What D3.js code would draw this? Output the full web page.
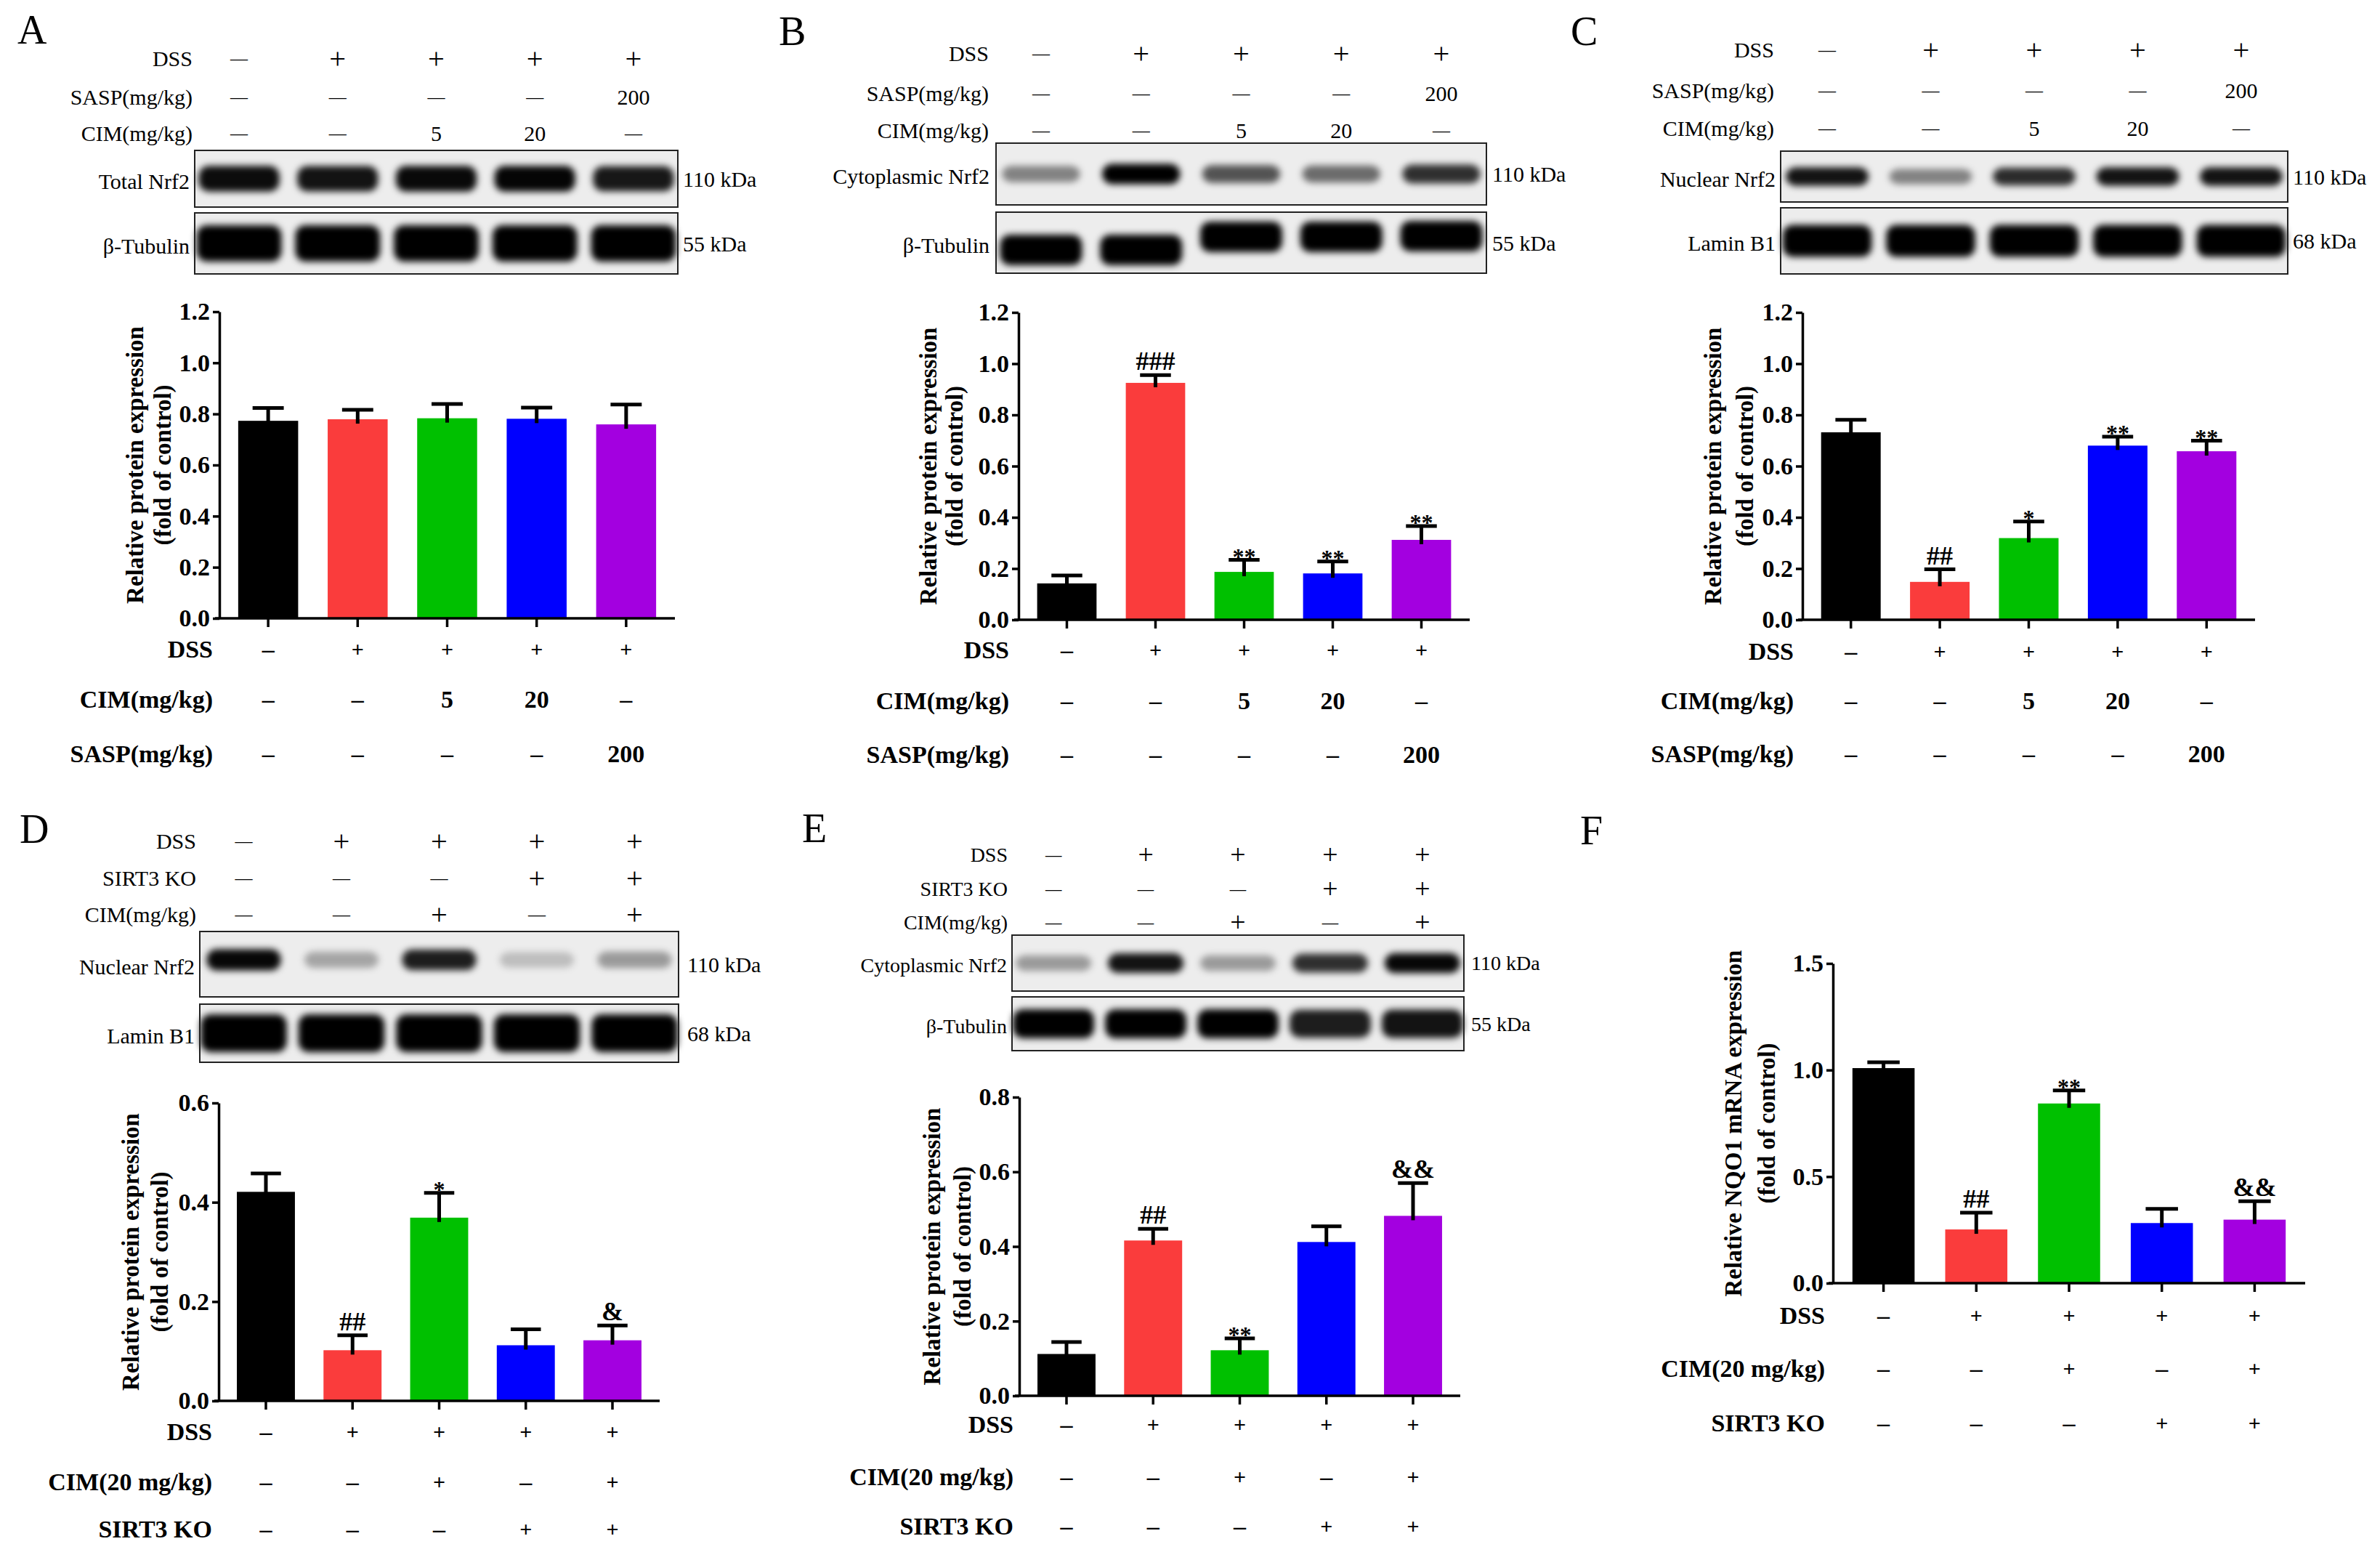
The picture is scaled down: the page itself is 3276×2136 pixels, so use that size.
<!DOCTYPE html>
<html>
<head>
<meta charset="utf-8">
<script src="https://cdn.jsdelivr.net/npm/d3@7"></script>
<style>
  body { margin: 0; background: #fff; }
  text { font-family: "Liberation Serif", "Times New Roman", serif; fill: #000; }
</style>
</head>
<body>
<script>
// ---- data ----
var barColors = ["#000000", "#fa3c3c", "#00c000", "#0000ff", "#a300e0"];

var ticks12 = [0, 0.2, 0.4, 0.6, 0.8, 1.0, 1.2];
var ticks06 = [0, 0.2, 0.4, 0.6];
var ticks08 = [0, 0.2, 0.4, 0.6, 0.8];
var ticks15 = [0, 0.5, 1.0, 1.5];

// treatment tables (A-C)
var hdrLabelsABC = ["DSS", "SASP(mg/kg)", "CIM(mg/kg)"];
var hdrValsABC = [["—", "+", "+", "+", "+"], ["—", "—", "—", "—", "200"], ["—", "—", "5", "20", "—"]];
var rowLabelsABC = ["DSS", "CIM(mg/kg)", "SASP(mg/kg)"];
var rowValsABC = [["–", "+", "+", "+", "+"], ["–", "–", "5", "20", "–"], ["–", "–", "–", "–", "200"]];
// treatment tables (D-F)
var hdrLabelsDE = ["DSS", "SIRT3 KO", "CIM(mg/kg)"];
var hdrValsDE = [["—", "+", "+", "+", "+"], ["—", "—", "—", "+", "+"], ["—", "—", "+", "—", "+"]];
var rowLabelsDEF = ["DSS", "CIM(20 mg/kg)", "SIRT3 KO"];
var rowValsDEF = [["–", "+", "+", "+", "+"], ["–", "–", "+", "–", "+"], ["–", "–", "–", "+", "+"]];

// bar means, SEM and significance marks
var meanA = [0.773, 0.779, 0.783, 0.781, 0.759];
var errA  = [0.050, 0.037, 0.056, 0.044, 0.078];
var sigA  = ["", "", "", "", ""];
var meanB = [0.142, 0.925, 0.187, 0.181, 0.312];
var errB  = [0.031, 0.030, 0.047, 0.047, 0.054];
var sigB  = ["", "###", "**", "**", "**"];
var meanC = [0.732, 0.148, 0.319, 0.680, 0.658];
var errC  = [0.049, 0.049, 0.065, 0.035, 0.041];
var sigC  = ["", "##", "*", "**", "**"];
var meanD = [0.421, 0.102, 0.369, 0.112, 0.122];
var errD  = [0.037, 0.030, 0.050, 0.032, 0.030];
var sigD  = ["", "##", "*", "", "&"];
var meanE = [0.112, 0.416, 0.122, 0.412, 0.482];
var errE  = [0.032, 0.031, 0.032, 0.042, 0.088];
var sigE  = ["", "##", "**", "", "&&"];
var meanF = [1.009, 0.252, 0.843, 0.282, 0.298];
var errF  = [0.027, 0.079, 0.061, 0.067, 0.086];
var sigF  = ["", "##", "**", "", "&&"];

// western blot band intensities (0..1) per lane
var bandA_nrf2 = [0.95, 0.92, 0.96, 0.98, 0.9];
var bandA_tub  = [1, 1, 1, 1, 1];
var bandB_nrf2 = [0.45, 1, 0.65, 0.55, 0.8];
var bandB_tub  = [1, 1, 1, 1, 1];
var bandC_nrf2 = [0.92, 0.45, 0.82, 0.92, 0.92];
var bandC_lam  = [1, 1, 1, 1, 1];
var bandD_nrf2 = [0.97, 0.3, 0.88, 0.2, 0.35];
var bandD_lam  = [1, 1, 1, 1, 1];
var bandE_nrf2 = [0.35, 0.92, 0.35, 0.8, 0.97];
var bandE_tub  = [1, 1, 1, 0.88, 0.92];

var ylabProt = ["Relative protein expression", "(fold of control)"];
var ylabNqo = ["Relative NQO1 mRNA expression", "(fold of control)"];

// ---- layout ----
var panels = [
  { letter: "A", lx: 24, ly: 60,
    hdr: { labels: hdrLabelsABC, values: hdrValsABC, ys: [80, 133, 183], right: 265, size: 30 },
    blot: { x0: 268, x1: 933, labelRight: 261, kdaX: 940, size: 30, rows: [
      { name: "Total Nrf2", kda: "110 kDa", y0: 207, y1: 285, bands: bandA_nrf2, h: 36, w: 0.82 },
      { name: "β-Tubulin", kda: "55 kDa", y0: 293, y1: 377, bands: bandA_tub, h: 50, w: 0.86 } ] },
    chart: { ax: 302, axEnd: 929, y0: 851, yTop: 429, ymax: 1.2, ticks: ticks12,
      mean: meanA, err: errA, sig: sigA, ylab: ylabProt, ylx: [186, 224] },
    rows: { labels: rowLabelsABC, values: rowValsABC, ys: [893, 962, 1037], right: 293 } },
  { letter: "B", lx: 1072, ly: 62,
    hdr: { labels: hdrLabelsABC, values: hdrValsABC, ys: [73, 128, 179], right: 1361, size: 30 },
    blot: { x0: 1371, x1: 2046, labelRight: 1362, kdaX: 2054, size: 30, rows: [
      { name: "Cytoplasmic Nrf2", kda: "110 kDa", y0: 197, y1: 282, bands: bandB_nrf2, h: 28, w: 0.78 },
      { name: "β-Tubulin", kda: "55 kDa", y0: 292, y1: 376, bands: bandB_tub, h: 42, w: 0.82, shift: [10, 10, -8, -8, -9] } ] },
    chart: { ax: 1402, axEnd: 2023, y0: 853, yTop: 430, ymax: 1.2, ticks: ticks12,
      mean: meanB, err: errB, sig: sigB, ylab: ylabProt, ylx: [1278, 1314] },
    rows: { labels: rowLabelsABC, values: rowValsABC, ys: [894, 964, 1038], right: 1389 } },
  { letter: "C", lx: 2162, ly: 62,
    hdr: { labels: hdrLabelsABC, values: hdrValsABC, ys: [68, 124, 176], right: 2442, size: 30 },
    blot: { x0: 2451, x1: 3149, labelRight: 2444, kdaX: 3156, size: 30, rows: [
      { name: "Nuclear Nrf2", kda: "110 kDa", y0: 208, y1: 278, bands: bandC_nrf2, h: 26, w: 0.8 },
      { name: "Lamin B1", kda: "68 kDa", y0: 286, y1: 377, bands: bandC_lam, h: 44, w: 0.86 } ] },
    chart: { ax: 2481, axEnd: 3104, y0: 853, yTop: 430, ymax: 1.2, ticks: ticks12,
      mean: meanC, err: errC, sig: sigC, ylab: ylabProt, ylx: [2358, 2402] },
    rows: { labels: rowLabelsABC, values: rowValsABC, ys: [896, 964, 1037], right: 2469 } },
  { letter: "D", lx: 27, ly: 1160,
    hdr: { labels: hdrLabelsDE, values: hdrValsDE, ys: [1157, 1208, 1258], right: 270, size: 30 },
    blot: { x0: 275, x1: 934, labelRight: 268, kdaX: 946, size: 30, rows: [
      { name: "Nuclear Nrf2", kda: "110 kDa", y0: 1282, y1: 1372, bands: bandD_nrf2, h: 30, w: 0.76, shift: [-6, -6, -6, -6, -6] },
      { name: "Lamin B1", kda: "68 kDa", y0: 1382, y1: 1462, bands: bandD_lam, h: 52, w: 0.88 } ] },
    chart: { ax: 301, axEnd: 908, y0: 1928, yTop: 1518, ymax: 0.6, ticks: ticks06,
      mean: meanD, err: errD, sig: sigD, ylab: ylabProt, ylx: [180, 220] },
    rows: { labels: rowLabelsDEF, values: rowValsDEF, ys: [1970, 2039, 2104], right: 292 } },
  { letter: "E", lx: 1104, ly: 1159,
    hdr: { labels: hdrLabelsDE, values: hdrValsDE, ys: [1176, 1223, 1269], right: 1387, size: 28 },
    blot: { x0: 1393, x1: 2015, labelRight: 1386, kdaX: 2025, size: 28, rows: [
      { name: "Cytoplasmic Nrf2", kda: "110 kDa", y0: 1287, y1: 1364, bands: bandE_nrf2, h: 28, w: 0.82 },
      { name: "β-Tubulin", kda: "55 kDa", y0: 1372, y1: 1446, bands: bandE_tub, h: 40, w: 0.88 } ] },
    chart: { ax: 1403, axEnd: 2010, y0: 1921, yTop: 1510, ymax: 0.8, ticks: ticks08,
      mean: meanE, err: errE, sig: sigE, ylab: ylabProt, ylx: [1283, 1325] },
    rows: { labels: rowLabelsDEF, values: rowValsDEF, ys: [1960, 2032, 2100], right: 1395 } },
  { letter: "F", lx: 2175, ly: 1162,
    chart: { ax: 2523, axEnd: 3173, y0: 1766, yTop: 1326, ymax: 1.5, ticks: ticks15,
      mean: meanF, err: errF, sig: sigF, ylab: ylabNqo, ylx: [2386, 2432] },
    rows: { labels: rowLabelsDEF, values: rowValsDEF, ys: [1810, 1883, 1958], right: 2512 } }
];

var svg = d3.select("body").append("svg")
  .attr("width", 3276)
  .attr("height", 2136);
svg.append("rect").attr("width", 3276).attr("height", 2136).attr("fill", "#fff");
var blur = svg.append("defs").append("filter").attr("id", "blur")
  .attr("x", "-30%").attr("y", "-100%").attr("width", "160%").attr("height", "300%");
blur.append("feGaussianBlur").attr("stdDeviation", 5);

function drawHeader(g, p) {
  var lanes = d3.scalePoint().domain(d3.range(5)).range([p.blot.x0, p.blot.x1]).padding(0.45);
  p.hdr.labels.forEach(function(lab, r) {
    var y = p.hdr.ys[r];
    g.append("text").attr("x", p.hdr.right).attr("y", y)
      .attr("text-anchor", "end").attr("dominant-baseline", "central")
      .attr("font-size", p.hdr.size).text(lab);
    g.selectAll(null).data(p.hdr.values[r]).enter().append("text")
      .attr("x", function(d, i) { return lanes(i); })
      .attr("y", y)
      .attr("text-anchor", "middle").attr("dominant-baseline", "central")
      .attr("font-size", function(d) { return d == "+" ? p.hdr.size * 1.35 : (d == "—" ? p.hdr.size * 0.8 : p.hdr.size); })
      .text(function(d) { return d; });
  });
}

function drawBlot(g, p) {
  var b = p.blot;
  var lanes = d3.scalePoint().domain(d3.range(5)).range([b.x0, b.x1]).padding(0.45);
  b.rows.forEach(function(row) {
    var cy = (row.y0 + row.y1) / 2;
    g.append("rect").attr("x", b.x0).attr("y", row.y0)
      .attr("width", b.x1 - b.x0).attr("height", row.y1 - row.y0)
      .attr("fill", "#ededed");
    var bw = lanes.step() * row.w;
    g.append("g").attr("filter", "url(#blur)")
      .selectAll("rect").data(row.bands).enter().append("rect")
      .attr("x", function(d, i) { return lanes(i) - bw / 2; })
      .attr("y", function(d, i) {
        var h = row.h * (0.65 + 0.35 * d);
        return cy + (row.shift ? row.shift[i] : 0) - h / 2;
      })
      .attr("width", bw)
      .attr("height", function(d) { return row.h * (0.65 + 0.35 * d); })
      .attr("rx", 14)
      .attr("fill", "#000")
      .attr("opacity", function(d) { return d; });
    g.append("rect").attr("x", b.x0).attr("y", row.y0)
      .attr("width", b.x1 - b.x0).attr("height", row.y1 - row.y0)
      .attr("fill", "none").attr("stroke", "#222").attr("stroke-width", 2);
    g.append("text").attr("x", b.labelRight).attr("y", cy + 3)
      .attr("text-anchor", "end").attr("dominant-baseline", "central")
      .attr("font-size", b.size).text(row.name);
    g.append("text").attr("x", b.kdaX).attr("y", cy)
      .attr("dominant-baseline", "central")
      .attr("font-size", b.size).text(row.kda);
  });
}

function drawChart(g, p) {
  var c = p.chart;
  var x = d3.scaleBand().domain(d3.range(5))
    .range([c.ax, c.axEnd]).paddingInner(0.33).paddingOuter(0.21);
  var y = d3.scaleLinear().domain([0, c.ymax]).range([c.y0, c.yTop]);

  g.selectAll("rect.bar").data(c.mean).enter().append("rect")
    .attr("class", "bar")
    .attr("x", function(d, i) { return x(i); })
    .attr("y", function(d) { return y(d); })
    .attr("width", x.bandwidth())
    .attr("height", function(d) { return y(0) - y(d); })
    .attr("fill", function(d, i) { return barColors[i]; });

  var capW = x.bandwidth() * 0.52;
  var eb = g.selectAll("g.err").data(c.mean).enter().append("g").attr("class", "err")
    .attr("stroke", "#000").attr("stroke-width", 5);
  eb.append("line")
    .attr("x1", function(d, i) { return x(i) + x.bandwidth() / 2; })
    .attr("x2", function(d, i) { return x(i) + x.bandwidth() / 2; })
    .attr("y1", function(d) { return y(d) + 6; })
    .attr("y2", function(d, i) { return y(d + c.err[i]); });
  eb.append("line")
    .attr("x1", function(d, i) { return x(i) + x.bandwidth() / 2 - capW / 2; })
    .attr("x2", function(d, i) { return x(i) + x.bandwidth() / 2 + capW / 2; })
    .attr("y1", function(d, i) { return y(d + c.err[i]); })
    .attr("y2", function(d, i) { return y(d + c.err[i]); });

  g.selectAll("text.sig").data(c.sig).enter().append("text")
    .attr("class", "sig")
    .attr("x", function(d, i) { return x(i) + x.bandwidth() / 2; })
    .attr("y", function(d, i) {
      var top = y(c.mean[i] + c.err[i]) - 7;
      return d.charAt(0) == "*" ? top + 13 : top;
    })
    .attr("text-anchor", "middle")
    .attr("font-size", function(d) { return d.charAt(0) == "*" ? 32 : 36; })
    .attr("font-weight", "bold")
    .text(function(d) { return d; });

  var yAxis = g.append("g").attr("transform", "translate(" + c.ax + ",0)")
    .call(d3.axisLeft(y).tickValues(c.ticks).tickFormat(d3.format(".1f")).tickSize(9).tickSizeOuter(0).tickPadding(4));
  var xAxis = g.append("g").attr("transform", "translate(0," + c.y0 + ")")
    .call(d3.axisBottom(x).tickFormat("").tickSize(12).tickSizeOuter(0));
  [yAxis, xAxis].forEach(function(a) {
    a.select(".domain").attr("stroke", "#000").attr("stroke-width", 3.5);
    a.selectAll(".tick line").attr("stroke", "#000").attr("stroke-width", 3.5);
  });
  xAxis.select(".domain").attr("d", "M" + (c.ax - 6) + ",0H" + c.axEnd);
  yAxis.selectAll(".tick text")
    .attr("font-family", "Liberation Serif, Times New Roman, serif")
    .attr("font-size", 34).attr("font-weight", "bold").attr("fill", "#000");

  var cy = (c.y0 + c.yTop) / 2;
  c.ylab.forEach(function(t, k) {
    g.append("text")
      .attr("transform", "translate(" + c.ylx[k] + "," + cy + ") rotate(-90)")
      .attr("text-anchor", "middle").attr("dominant-baseline", "central")
      .attr("font-size", 33).attr("font-weight", "bold")
      .text(t);
  });

  // treatment rows under the bars
  var r = p.rows;
  r.labels.forEach(function(lab, k) {
    g.append("text").attr("x", r.right).attr("y", r.ys[k])
      .attr("text-anchor", "end").attr("dominant-baseline", "central")
      .attr("font-size", 34).attr("font-weight", "bold").text(lab);
    g.selectAll(null).data(r.values[k]).enter().append("text")
      .attr("x", function(d, i) { return x(i) + x.bandwidth() / 2; })
      .attr("y", r.ys[k])
      .attr("text-anchor", "middle").attr("dominant-baseline", "central")
      .attr("font-size", function(d) { return d == "+" ? 30 : 34; })
      .attr("font-weight", "bold")
      .text(function(d) { return d; });
  });
}

panels.forEach(function(p) {
  var g = svg.append("g");
  g.append("text").attr("x", p.lx).attr("y", p.ly)
    .attr("font-size", 56).text(p.letter);
  if (p.hdr) drawHeader(g, p);
  if (p.blot) drawBlot(g, p);
  drawChart(g, p);
});
</script>
</body>
</html>
